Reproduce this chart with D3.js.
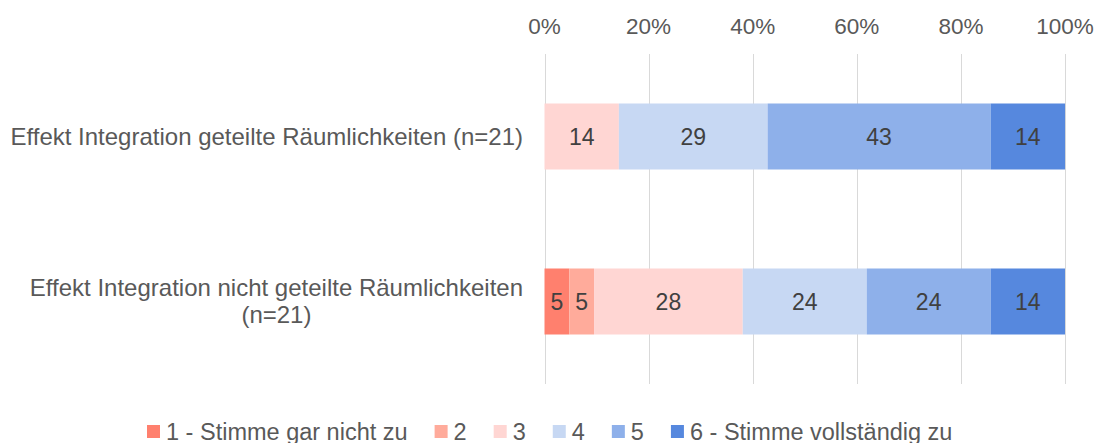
<!DOCTYPE html>
<html>
<head>
<meta charset="utf-8">
<script src="https://cdn.jsdelivr.net/npm/d3@7"></script>
<style>
  html, body { margin: 0; padding: 0; background: #fff; }
  svg text { font-family: Arial, "Liberation Sans", sans-serif; }
</style>
</head>
<body>
<div id="chart"></div>
<script>
// Data (shares in %, n=21)
const categories = [
  'Effekt Integration geteilte Räumlichkeiten (n=21)',
  'Effekt Integration nicht geteilte Räumlichkeiten (n=21)'
];
const categoryLines = [
  ['Effekt Integration geteilte Räumlichkeiten (n=21)'],
  ['Effekt Integration nicht geteilte Räumlichkeiten', '(n=21)']
];
const seriesNames = ['1 - Stimme gar nicht zu', '2', '3', '4', '5', '6 - Stimme vollständig zu'];
const seriesColors = ['#FF806E', '#FFAB9B', '#FFD6D3', '#C7D8F3', '#8EB0EA', '#5688DE'];
const values = [
  [0, 0, 14.29, 28.57, 42.86, 14.29],
  [4.76, 4.76, 28.57, 23.81, 23.81, 14.29]
];
const valueLabels = [
  ['', '', '14', '29', '43', '14'],
  ['5', '5', '28', '24', '24', '14']
];
const tickValues = [0, 20, 40, 60, 80, 100];

const W = 1101, H = 443;
const svg = d3.select('#chart').append('svg')
    .attr('width', W).attr('height', H);

const x = d3.scaleLinear().domain([0, 100]).range([544.5, 1065]);
const y = d3.scaleBand().domain(categories).range([54, 384])
    .paddingInner(0.6).paddingOuter(0.3);

// Gridlines
svg.append('g').selectAll('line').data(tickValues).join('line')
    .attr('x1', d => Math.round(x(d)) + 0.5).attr('x2', d => Math.round(x(d)) + 0.5)
    .attr('y1', 54).attr('y2', 384)
    .attr('stroke', '#d9d9d9').attr('stroke-width', 1);

// Top axis labels
svg.append('g').selectAll('text').data(tickValues).join('text')
    .attr('x', d => x(d)).attr('y', 34)
    .attr('text-anchor', 'middle')
    .attr('font-size', 22.5).attr('fill', '#595959')
    .text(d => d + '%');

// Stacked segments
const rows = categories.map((c, i) => {
  let acc = 0;
  return values[i].map((v, j) => {
    const seg = { cat: c, j, x0: acc, x1: acc + v, label: valueLabels[i][j] };
    acc += v;
    return seg;
  });
});

const gBars = svg.append('g');
rows.forEach(row => {
  gBars.append('g').selectAll('rect').data(row.filter(s => s.x1 > s.x0)).join('rect')
      .attr('x', s => x(s.x0)).attr('width', s => x(s.x1) - x(s.x0))
      .attr('y', s => y(s.cat)).attr('height', y.bandwidth())
      .attr('fill', s => seriesColors[s.j]);
  gBars.append('g').selectAll('text').data(row.filter(s => s.label)).join('text')
      .attr('x', s => (x(s.x0) + x(s.x1)) / 2)
      .attr('y', s => y(s.cat) + y.bandwidth() / 2 + 8)
      .attr('text-anchor', 'middle')
      .attr('font-size', 23).attr('fill', '#404040')
      .text(s => s.label);
});

// Category labels (right aligned, wrapped lines centred on each other)
const gCat = svg.append('g');
categories.forEach((c, i) => {
  const lines = categoryLines[i];
  const cy = y(c) + y.bandwidth() / 2;
  const lh = 27;
  const first = gCat.append('text')
      .attr('x', 523).attr('text-anchor', 'end')
      .attr('y', cy + 8 - (lines.length - 1) * lh / 2)
      .attr('font-size', 24).attr('fill', '#595959')
      .text(lines[0]);
  const w0 = first.node().getComputedTextLength();
  lines.slice(1).forEach((ln, k) => {
    gCat.append('text')
        .attr('x', 523 - w0 / 2).attr('text-anchor', 'middle')
        .attr('y', cy + 8 - (lines.length - 1) * lh / 2 + (k + 1) * lh)
        .attr('font-size', 24).attr('fill', '#595959')
        .text(ln);
  });
});

// Legend
const gLeg = svg.append('g');
let lx = 147;
seriesNames.forEach((name, i) => {
  gLeg.append('rect')
      .attr('x', lx).attr('y', 425).attr('width', 13).attr('height', 13)
      .attr('fill', seriesColors[i]);
  const t = gLeg.append('text')
      .attr('x', lx + 19).attr('y', 440)
      .attr('font-size', 23.5).attr('fill', '#595959')
      .text(name);
  lx += 19 + t.node().getComputedTextLength() + 27;
});
</script>
</body>
</html>
